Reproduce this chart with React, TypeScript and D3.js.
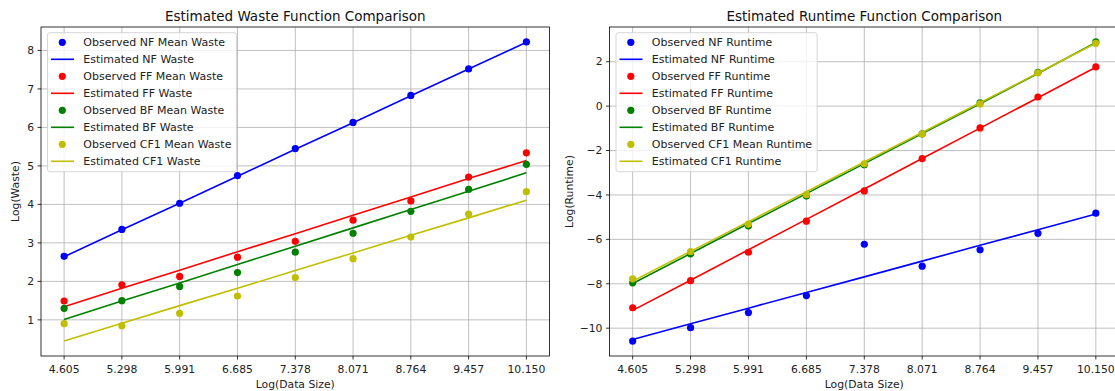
import React, { useEffect, useRef } from 'react';
import * as d3 from 'd3';

// x positions: log of data size 100 .. 25600
const xVals = [4.605, 5.298, 5.991, 6.685, 7.378, 8.071, 8.764, 9.457, 10.150];
const xTickLabels = ['4.605', '5.298', '5.991', '6.685', '7.378', '8.071', '8.764', '9.457', '10.150'];

// waste panel
const wasteNFObs = [2.65, 3.35, 4.03, 4.75, 5.45, 6.13, 6.83, 7.52, 8.22];
const wasteNFEst = [2.64, 3.34, 4.03, 4.73, 5.43, 6.12, 6.82, 7.52, 8.21];
const wasteFFObs = [1.49, 1.91, 2.13, 2.63, 3.04, 3.59, 4.09, 4.71, 5.34];
const wasteFFEst = [1.34, 1.82, 2.29, 2.77, 3.24, 3.72, 4.19, 4.67, 5.14];
const wasteBFObs = [1.30, 1.50, 1.87, 2.23, 2.76, 3.25, 3.82, 4.39, 5.04];
const wasteBFEst = [1.01, 1.49, 1.96, 2.44, 2.91, 3.39, 3.87, 4.34, 4.82];
const wasteCF1Obs = [0.90, 0.85, 1.17, 1.62, 2.10, 2.59, 3.15, 3.75, 4.33];
const wasteCF1Est = [0.45, 0.91, 1.37, 1.82, 2.28, 2.74, 3.20, 3.65, 4.11];
const wasteYTicks = [1, 2, 3, 4, 5, 6, 7, 8];

// runtime panel
const rtNFObs = [-10.58, -9.98, -9.30, -8.53, -6.22, -7.21, -6.47, -5.73, -4.82];
const rtNFEst = [-10.51, -9.80, -9.10, -8.39, -7.69, -6.98, -6.27, -5.57, -4.86];
const rtFFObs = [-9.08, -7.86, -6.58, -5.18, -3.82, -2.36, -0.98, 0.41, 1.77];
const rtFFEst = [-9.20, -7.84, -6.47, -5.10, -3.73, -2.36, -0.99, 0.38, 1.75];
const rtBFObs = [-7.96, -6.65, -5.40, -4.05, -2.64, -1.25, 0.15, 1.52, 2.89];
const rtBFEst = [-7.99, -6.64, -5.29, -3.94, -2.59, -1.24, 0.11, 1.47, 2.87];
const rtCF1Obs = [-7.78, -6.55, -5.31, -3.99, -2.60, -1.26, 0.10, 1.50, 2.83];
const rtCF1Est = [-7.88, -6.54, -5.20, -3.86, -2.52, -1.19, 0.15, 1.49, 2.83];
const rtYTicks = [-10, -8, -6, -4, -2, 0, 2];

const colors: Record<string, string> = { NF: '#0000ff', FF: '#ff0000', BF: '#008000', CF1: '#bfbf00' };

const FONT = '"DejaVu Sans", sans-serif';
const TICK_SIZE = 10.8;
const LABEL_SIZE = 11;
const TITLE_SIZE = 13.5;

interface Series { key: string; obs: number[]; est: number[]; obsLabel: string; estLabel: string; }

interface Panel {
  left: number; right: number; top: number; bottom: number;
  title: string; yLabel: string; yLabelX: number; yTicks: number[]; series: Series[];
}

const panels: Panel[] = [
  {
    left: 41, right: 549.5, top: 27, bottom: 356,
    title: 'Estimated Waste Function Comparison', yLabel: 'Log(Waste)', yLabelX: 15, yTicks: wasteYTicks,
    series: [
      { key: 'NF', obs: wasteNFObs, est: wasteNFEst, obsLabel: 'Observed NF Mean Waste', estLabel: 'Estimated NF Waste' },
      { key: 'FF', obs: wasteFFObs, est: wasteFFEst, obsLabel: 'Observed FF Mean Waste', estLabel: 'Estimated FF Waste' },
      { key: 'BF', obs: wasteBFObs, est: wasteBFEst, obsLabel: 'Observed BF Mean Waste', estLabel: 'Estimated BF Waste' },
      { key: 'CF1', obs: wasteCF1Obs, est: wasteCF1Est, obsLabel: 'Observed CF1 Mean Waste', estLabel: 'Estimated CF1 Waste' },
    ],
  },
  {
    left: 609.5, right: 1119, top: 27, bottom: 356,
    title: 'Estimated Runtime Function Comparison', yLabel: 'Log(Runtime)', yLabelX: 569, yTicks: rtYTicks,
    series: [
      { key: 'NF', obs: rtNFObs, est: rtNFEst, obsLabel: 'Observed NF Runtime', estLabel: 'Estimated NF Runtime' },
      { key: 'FF', obs: rtFFObs, est: rtFFEst, obsLabel: 'Observed FF Runtime', estLabel: 'Estimated FF Runtime' },
      { key: 'BF', obs: rtBFObs, est: rtBFEst, obsLabel: 'Observed BF Runtime', estLabel: 'Estimated BF Runtime' },
      { key: 'CF1', obs: rtCF1Obs, est: rtCF1Est, obsLabel: 'Observed CF1 Mean Runtime', estLabel: 'Estimated CF1 Runtime' },
    ],
  },
];

// matplotlib style 5% margins
const padded = (lo: number, hi: number): [number, number] => {
  const m = (hi - lo) * 0.05;
  return [lo - m, hi + m];
};

function drawPanel(svg: d3.Selection<SVGSVGElement, unknown, null, undefined>, p: Panel, idx: number) {
  const g = svg.append('g');
  const all = p.series.flatMap(s => [...s.obs, ...s.est]);
  const x = d3.scaleLinear().domain(padded(d3.min(xVals)!, d3.max(xVals)!)).range([p.left, p.right]);
  const y = d3.scaleLinear().domain(padded(d3.min(all)!, d3.max(all)!)).range([p.bottom, p.top]);

  const clipId = `clip-${idx}`;
  g.append('clipPath').attr('id', clipId)
    .append('rect').attr('x', p.left).attr('y', p.top)
    .attr('width', p.right - p.left).attr('height', p.bottom - p.top);

  // grid
  const grid = g.append('g').attr('stroke', '#b0b0b0').attr('stroke-width', 0.8);
  grid.selectAll('line.vx').data(xVals).join('line')
    .attr('x1', d => x(d)).attr('x2', d => x(d)).attr('y1', p.top).attr('y2', p.bottom);
  grid.selectAll('line.hy').data(p.yTicks).join('line')
    .attr('x1', p.left).attr('x2', p.right).attr('y1', d => y(d)).attr('y2', d => y(d));

  // data: observed dots then fitted line, per algorithm
  const plot = g.append('g').attr('clip-path', `url(#${clipId})`);
  const line = d3.line<number>().x((_, i) => x(xVals[i])).y(d => y(d));
  p.series.forEach(s => {
    plot.append('g').selectAll('circle').data(s.obs).join('circle')
      .attr('cx', (_, i) => x(xVals[i])).attr('cy', d => y(d)).attr('r', 3.6)
      .attr('fill', colors[s.key]);
    plot.append('path').datum(s.est).attr('d', line)
      .attr('fill', 'none').attr('stroke', colors[s.key]).attr('stroke-width', 1.6);
  });

  // spines
  g.append('rect').attr('x', p.left).attr('y', p.top)
    .attr('width', p.right - p.left).attr('height', p.bottom - p.top)
    .attr('fill', 'none').attr('stroke', '#000').attr('stroke-width', 0.8);

  // x ticks
  const xt = g.append('g').selectAll('g').data(xVals).join('g')
    .attr('transform', d => `translate(${x(d)},${p.bottom})`);
  xt.append('line').attr('y2', 3.5).attr('stroke', '#000').attr('stroke-width', 0.8);
  xt.append('text').attr('y', 16.5).attr('text-anchor', 'middle')
    .attr('font-family', FONT).attr('font-size', TICK_SIZE).attr('fill', '#222')
    .text((_, i) => xTickLabels[i]);

  // y ticks
  const yt = g.append('g').selectAll('g').data(p.yTicks).join('g')
    .attr('transform', d => `translate(${p.left},${y(d)})`);
  yt.append('line').attr('x2', -3.5).attr('stroke', '#000').attr('stroke-width', 0.8);
  yt.append('text').attr('x', -7).attr('dy', '0.35em').attr('text-anchor', 'end')
    .attr('font-family', FONT).attr('font-size', TICK_SIZE).attr('fill', '#222')
    .text(d => String(d).replace('-', '\u2212'));

  // title and axis labels
  const cx = (p.left + p.right) / 2;
  g.append('text').attr('x', cx).attr('y', 20.5).attr('text-anchor', 'middle')
    .attr('font-family', FONT).attr('font-size', TITLE_SIZE).attr('fill', '#111').text(p.title);
  g.append('text').attr('x', cx).attr('y', 387.5).attr('text-anchor', 'middle')
    .attr('font-family', FONT).attr('font-size', TICK_SIZE).attr('fill', '#222').text('Log(Data Size)');
  g.append('text').attr('transform', `translate(${p.yLabelX},${(p.top + p.bottom) / 2}) rotate(-90)`)
    .attr('dy', '0.35em').attr('text-anchor', 'middle')
    .attr('font-family', FONT).attr('font-size', TICK_SIZE).attr('fill', '#222').text(p.yLabel);

  // legend
  const lx = p.left + 6.5;
  const ly = 32.7;
  const rowH = 17;
  const leg = g.append('g');
  const box = leg.append('rect').attr('x', lx).attr('y', ly).attr('rx', 2.5)
    .attr('fill', '#fff').attr('fill-opacity', 0.8).attr('stroke', '#cccccc').attr('stroke-width', 0.8);
  const entries = p.series.flatMap(s => [
    { key: s.key, kind: 'obs', label: s.obsLabel },
    { key: s.key, kind: 'est', label: s.estLabel },
  ]);
  let maxW = 0;
  entries.forEach((e, i) => {
    const cy = ly + 9.6 + i * rowH;
    if (e.kind === 'obs') {
      leg.append('circle').attr('cx', lx + 14.8).attr('cy', cy).attr('r', 3.6).attr('fill', colors[e.key]);
    } else {
      leg.append('line').attr('x1', lx + 3.5).attr('x2', lx + 26.5).attr('y1', cy).attr('y2', cy)
        .attr('stroke', colors[e.key]).attr('stroke-width', 1.6);
    }
    const t = leg.append('text').attr('x', lx + 35.8).attr('y', cy).attr('dy', '0.35em')
      .attr('font-family', FONT).attr('font-size', LABEL_SIZE).attr('fill', '#222').text(e.label);
    const w = (t.node() as SVGTextElement).getComputedTextLength();
    if (w > maxW) maxW = w;
  });
  box.attr('width', 35.8 + maxW + 5).attr('height', entries.length * rowH + 3);
}

const App: React.FC = () => {
  const svgRef = useRef<SVGSVGElement | null>(null);

  useEffect(() => {
    if (!svgRef.current) return;
    const svg = d3.select(svgRef.current);
    svg.selectAll('*').remove();
    panels.forEach((p, i) => drawPanel(svg, p, i));
  }, []);

  return (
    <svg
      ref={svgRef}
      width={1115}
      height={391}
      style={{ position: 'absolute', left: 0, top: 0, background: '#fff' }}
    />
  );
};

export default App;
